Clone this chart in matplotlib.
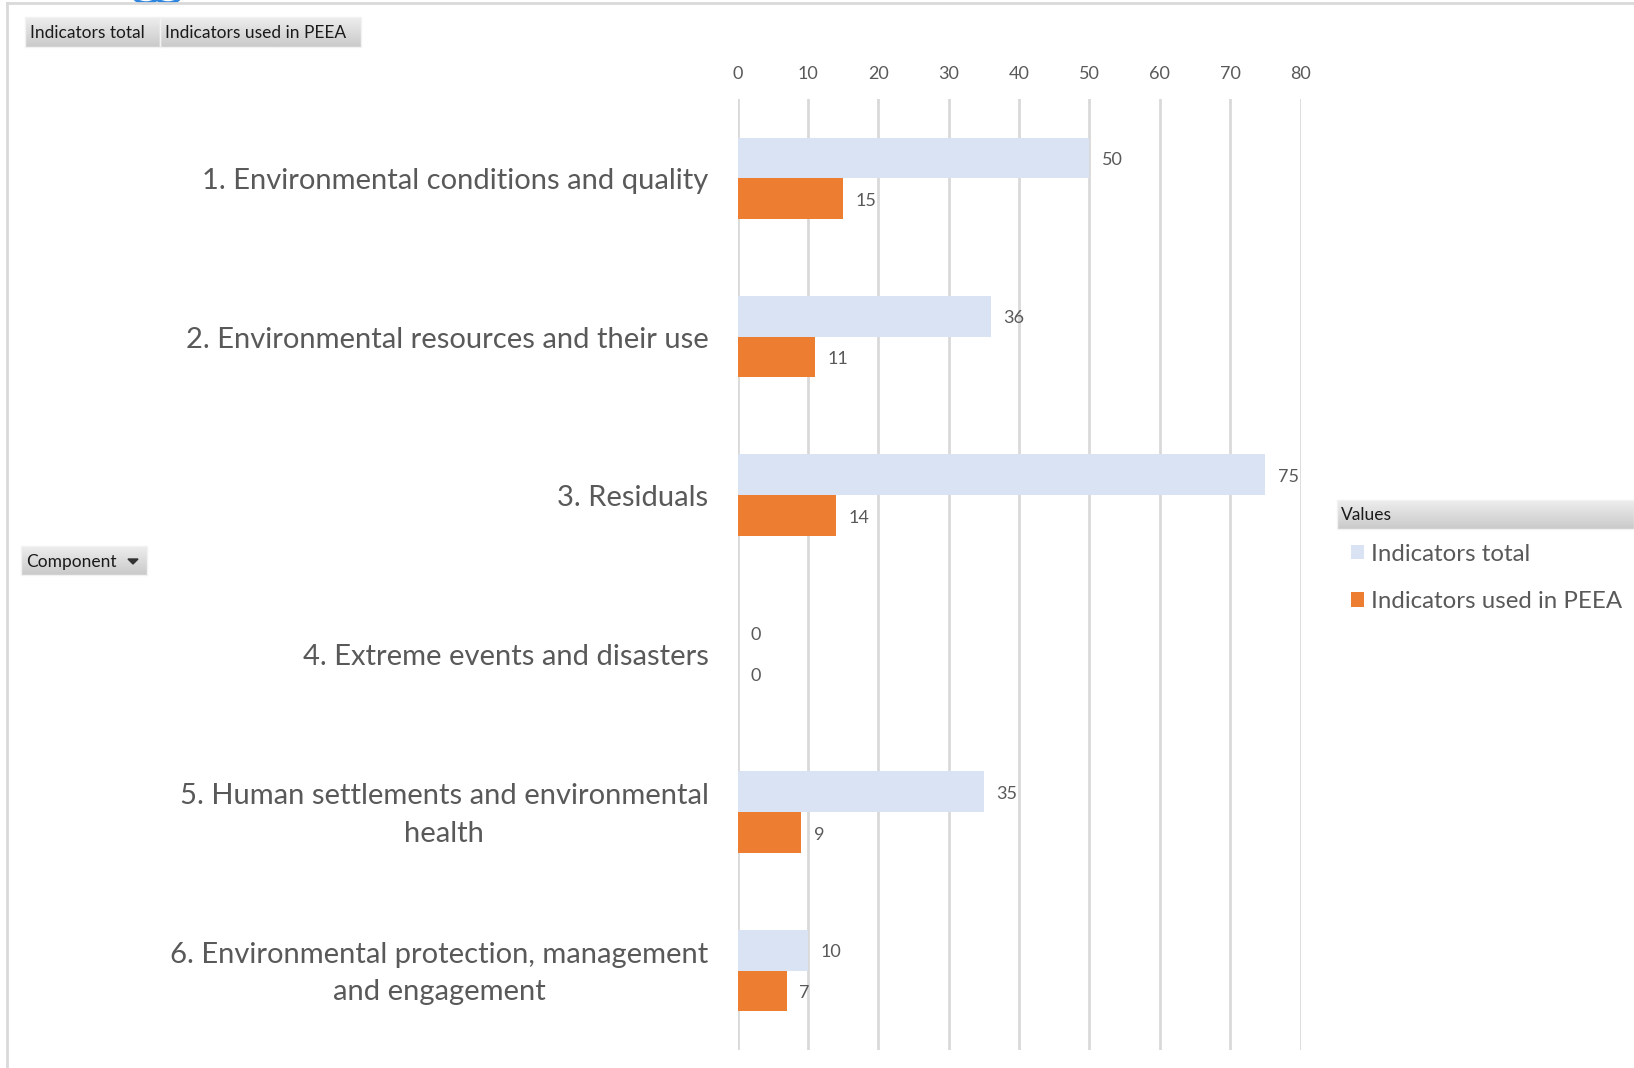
import numpy as np
import matplotlib
matplotlib.use("Agg")
import matplotlib.pyplot as plt
from matplotlib.patches import Rectangle, Ellipse, Polygon

plt.rcParams['font.family'] = ['Lato', 'DejaVu Sans']

# data
categories = [
    "1. Environmental conditions and quality",
    "2. Environmental resources and their use",
    "3. Residuals",
    "4. Extreme events and disasters",
    "5. Human settlements and environmental\nhealth",
    "6. Environmental protection, management\nand engagement",
]
indicators_total = [50, 36, 75, 0, 35, 10]
indicators_peea = [15, 11, 14, 0, 9, 7]
x_ticks = [0, 10, 20, 30, 40, 50, 60, 70, 80]
series_names = ["Indicators total", "Indicators used in PEEA"]

W, H = 1634, 1068
BLUE = '#DAE3F3'
ORANGE = '#ED7D31'
TEXT = '#595959'
GRID = '#D9D9D9'

fig = plt.figure(figsize=(W / 100, H / 100), dpi=100)
fig.patch.set_facecolor('white')

# background layer in pixel coordinates (buttons, frame)
bg = fig.add_axes([0, 0, 1, 1], zorder=0)
bg.set_xlim(0, W)
bg.set_ylim(H, 0)
bg.axis('off')

# frame lines of the chart area
bg.plot([7, 7], [3, H], color=GRID, lw=2)
bg.plot([7, W], [3, 3], color=GRID, lw=2)

# little blue icon cut at the top
for cx in (146, 168):
    bg.add_patch(Ellipse((cx, -6), 26, 18, fill=False, edgecolor='#2E86DE', lw=2.5))

grad = np.linspace(0.93, 0.79, 50).reshape(-1, 1)


def button(x0, x1, y0, y1, label, size=12.5, dx=5):
    bg.imshow(grad, cmap='gray', vmin=0, vmax=1, extent=(x0, x1, y1, y0),
              aspect='auto', zorder=1)
    bg.add_patch(Rectangle((x0, y0), x1 - x0, y1 - y0, fill=False,
                           edgecolor='#f2f2f2', lw=1, zorder=2))
    bg.text(x0 + dx, (y0 + y1) / 2 + 1, label, ha='left', va='center',
            fontsize=size, color='#1a1a1a', zorder=3)


button(25, 160, 17, 47, series_names[0])
button(160, 361, 17, 47, series_names[1])
button(21, 147, 546, 575, "Component")
bg.add_patch(Polygon([[128, 559], [138, 559], [133, 564]], closed=True,
                     color='#333333', zorder=3))
button(1337, W, 500, 529, "Values", dx=4)
bg.set_xlim(0, W)
bg.set_ylim(H, 0)

# main chart
ax = fig.add_axes([0.4515, 0.017, 0.3444, 0.8903], zorder=1)
ax.patch.set_alpha(0)

y = np.arange(len(categories))
h = 0.257
b1 = ax.barh(y - h / 2, indicators_total, height=h, color=BLUE,
             label=series_names[0], zorder=2)
b2 = ax.barh(y + h / 2, indicators_peea, height=h, color=ORANGE,
             label=series_names[1], zorder=2)

for bars, vals in ((b1, indicators_total), (b2, indicators_peea)):
    for bar, v in zip(bars, vals):
        ax.annotate(str(v), (bar.get_width(), bar.get_y() + bar.get_height() / 2),
                    xytext=(9, -1.5), textcoords='offset points', ha='left',
                    va='center', fontsize=13, color=TEXT)

ax.set_xlim(0, 80)
ax.set_ylim(len(categories) - 0.5, -0.5)
ax.set_xticks(x_ticks)
ax.xaxis.tick_top()
ax.tick_params(axis='x', length=0, pad=12, labelsize=13, labelcolor=TEXT)
ax.set_yticks(y)
ax.set_yticklabels([])
ax.tick_params(axis='y', length=0)

# category labels, centred lines, right aligned next to the axis
for yi, cat in zip(y, categories):
    ax.annotate(cat, xy=(0, yi), xycoords=ax.get_yaxis_transform(),
                xytext=(-21, -2.2), textcoords='offset points', ha='right',
                va='center', multialignment='center', linespacing=1.55,
                fontsize=21, color=TEXT)

ax.grid(axis='x', color=GRID, lw=2, zorder=0)
for s in ax.spines.values():
    s.set_visible(False)

fig.legend(handles=[b1, b2], loc='upper left', bbox_to_anchor=(1341 / W, 1 - 534 / H),
           frameon=False, fontsize=17.3, labelcolor=TEXT, handlelength=0.55,
           handleheight=0.55, handletextpad=0.3, labelspacing=1.1, borderaxespad=0)

fig.savefig('out.png', dpi=100)
